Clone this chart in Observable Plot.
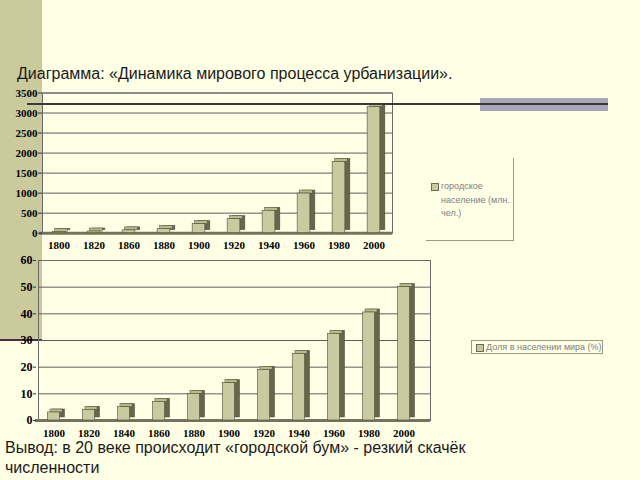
<!DOCTYPE html>
<html><head><meta charset="utf-8">
<script src="https://cdn.jsdelivr.net/npm/d3@7"></script>
<script src="https://cdn.jsdelivr.net/npm/@observablehq/plot@0.6"></script>
<style>
html,body{margin:0;padding:0}
body{background:#ffffe6;width:640px;height:480px;overflow:hidden;position:relative;font-family:"Liberation Sans",Arial,sans-serif}
.abs{position:absolute}
#strip{left:0;top:0;width:42px;height:339px;background:#cbca9c}
#stripline{left:0;top:339px;width:42px;height:2px;background:#4b2a45}
#hline{left:27px;top:103px;width:581px;height:2px;background:#3a3a3a;z-index:5}
#hrect{left:480px;top:98px;width:128px;height:13px;background:#aaa8b8;z-index:4}
#title{left:17px;top:65px;font-size:16px;color:#1a1a1a;white-space:nowrap;z-index:6}
#concl{left:5px;top:438px;font-size:16px;line-height:20px;color:#1a1a1a;width:480px;z-index:6}
#top{left:0;top:80px}
#bot{left:0;top:250px}
.leg{color:#808080;font-size:9px;font-family:"Liberation Sans",Arial,sans-serif}
#leg1{left:426px;top:158px;width:87px;height:82px;border-right:1.5px solid #9a9a8a;border-bottom:1.5px solid #9a9a8a}
#leg1 .sw{position:absolute;left:5px;top:25px;width:6px;height:6px;background:#c9c99d;border:1px solid #6a6a55}
#leg1 .tx{position:absolute;left:15px;top:22px;width:72px;line-height:13.5px}
#leg2{left:471px;top:340px;width:130px;height:12px;border:1px solid #9a9a8a}
#leg2 .sw{position:absolute;left:4px;top:3px;width:6px;height:6px;background:#c9c99d;border:1px solid #6a6a55}
#leg2 .tx{position:absolute;left:14px;top:0px;white-space:nowrap;line-height:12px}
</style></head><body>
<div id="strip" class="abs"></div>
<div id="stripline" class="abs"></div>
<div id="top" class="abs"></div>
<div id="bot" class="abs"></div>
<div id="hrect" class="abs"></div>
<div id="hline" class="abs"></div>
<div id="title" class="abs">Диаграмма: «Динамика мирового процесса урбанизации».</div>
<div id="leg1" class="abs leg"><div class="sw"></div><div class="tx">городское население (млн. чел.)</div></div>
<div id="leg2" class="abs leg"><div class="sw"></div><div class="tx">Доля в населении мира (%)</div></div>
<div id="concl" class="abs">Вывод: в 20 веке происходит «городской бум» - резкий скачёк численности</div>
<script>
const yearsTop = ["1800","1820","1860","1880","1900","1920","1940","1960","1980","2000"];
const urbanPop = [30, 42, 70, 105, 225, 350, 560, 990, 1780, 3150];
const ticksTop = [0, 500, 1000, 1500, 2000, 2500, 3000, 3500];

const yearsBottom = ["1800","1820","1840","1860","1880","1900","1920","1940","1960","1980","2000"];
const urbanShare = [3, 4, 5, 7, 10, 14, 19, 25, 32.5, 40.5, 50];
const ticksBottom = [0, 10, 20, 30, 40, 50, 60];

function chart3d(o) {
  const data = o.cats.map((c, i) => ({cat: c, v: o.vals[i]}));
  const step = (o.width - o.marginLeft - o.marginRight) / o.cats.length;
  const ins = (step - o.barW) / 2;
  const serif = "'Liberation Serif','Times New Roman',serif";
  return Plot.plot({
    width: o.width, height: o.height,
    marginLeft: o.marginLeft, marginRight: o.marginRight,
    marginTop: o.marginTop, marginBottom: o.marginBottom,
    style: {background: "transparent", fontFamily: serif, color: "#000"},
    x: {domain: o.cats, padding: 0, axis: null},
    y: {domain: [0, o.yMax], axis: null},
    marks: [
      Plot.gridY(o.ticks, {stroke: "#5e5e5e", strokeOpacity: 1, strokeWidth: 1, insetLeft: o.fl, insetRight: o.fr}),
      Plot.frame({stroke: "#6a6a6a", strokeWidth: 1, insetLeft: o.fl, insetRight: o.fr}),
      Plot.ruleY([0], {stroke: "#74745e", strokeWidth: 3, insetLeft: o.fl - 3, insetRight: o.fr}),
      Plot.axisY(o.ticks, {anchor: "left", tickSize: o.tickSize, tickPadding: 1, dx: o.axisDx,
        fontSize: o.yFont, fontWeight: "bold", fontFamily: serif, tickFormat: d => String(d), label: null, stroke: "#333"}),
      Plot.axisX({tickSize: 0, tickPadding: o.xPad, fontSize: 11, fontWeight: "bold", fontFamily: serif, label: null}),
      Plot.barY(data, {x: "cat", y: "v", fill: "#66664b", stroke: "#4a4a38", strokeWidth: 0.5, insetLeft: ins, insetRight: ins, dx: o.depthX, dy: -o.depthY}),
      Plot.barY(data, {x: "cat", y1: "v", y2: "v", fill: "#b9b98a", stroke: "#4a4a38", strokeWidth: 0.5, insetLeft: ins, insetRight: ins, insetTop: -o.depthY, dx: o.depthX / 2}),
      Plot.barY(data, {x: "cat", y: "v", fill: "#cacaa0", stroke: "#4f4f3c", strokeWidth: 0.6, insetLeft: ins, insetRight: ins})
    ]
  });
}

document.getElementById("top").append(chart3d({
  cats: yearsTop, vals: urbanPop, ticks: ticksTop, yMax: 3500,
  width: 400, height: 175, marginLeft: 39, marginRight: 8, marginTop: 12.5, marginBottom: 22.3,
  fl: 3, fr: 0, axisDx: 3, tickSize: 4, yFont: 11, xPad: 8, barW: 13, depthX: 5, depthY: 3
}));

document.getElementById("bot").append(chart3d({
  cats: yearsBottom, vals: urbanShare, ticks: ticksBottom, yMax: 60,
  width: 440, height: 200, marginLeft: 31, marginRight: 14, marginTop: 10, marginBottom: 30,
  fl: 7, fr: -4, axisDx: 5, tickSize: 3, yFont: 12, xPad: 9, barW: 13, depthX: 5, depthY: 3
}));
</script>
</body></html>
